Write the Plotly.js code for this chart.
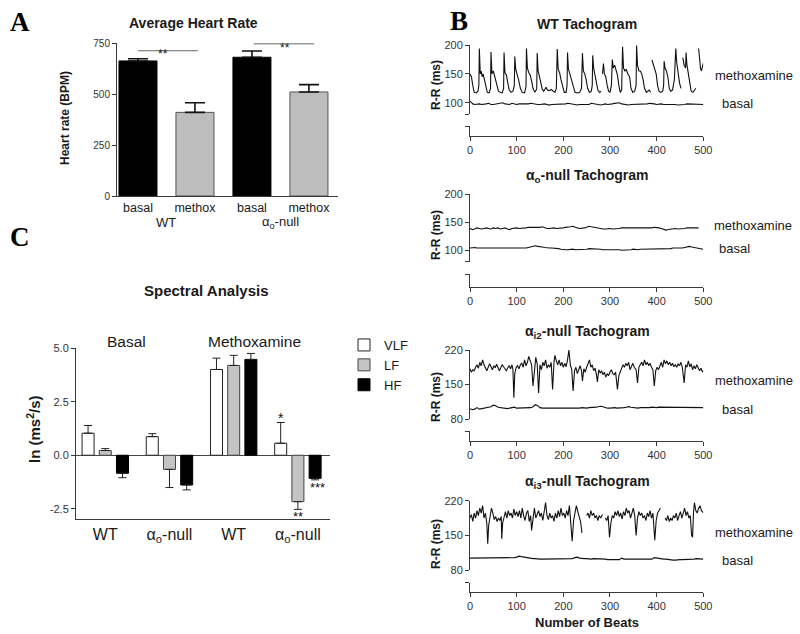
<!DOCTYPE html>
<html><head><meta charset="utf-8">
<script src="https://cdn.plot.ly/plotly-3.0.1.min.js"></script>
<style>html,body{margin:0;padding:0;background:#fff}#chart{width:800px;height:634px}</style>
</head><body><div id="chart"></div>
<script>
// ---------- Panel A: Average Heart Rate ----------
const hrKeys = ['WT basal','WT methox','ao basal','ao methox'];
const hrLabels = ['basal','methox','basal','methox'];
const hrValues = [662, 410, 680, 510];
const hrErrors = [11, 47, 31, 36];
const hrGroups = ['WT', 'α<sub>o</sub>-null'];

// ---------- Panel C: Spectral Analysis ----------
const specKeys = ['WT basal','ao basal','WT metho','ao metho'];
const specLabels = ['WT','α<sub>o</sub>-null','WT','α<sub>o</sub>-null'];
const vlfValues = [1.03, 0.87, 4.01, 0.56];
const vlfErrors = [0.36, 0.14, 0.53, 0.97];
const lfValues = [0.22, -0.66, 4.20, -2.17];
const lfErrors = [0.09, 0.85, 0.47, 0.36];
const hfValues = [-0.84, -1.39, 4.48, -1.08];
const hfErrors = [0.21, 0.23, 0.28, 0.07];

// ---------- Panel B: Tachograms [beat, R-R ms] ----------
const wtMeth = [[0,150],[3,145],[6,130],[9,118],[13,117],[17,120],[19,130],[20,194],[22,150],[24,155],[26,145],[28,150],[31,140],[34,125],[37,118],[41,117],[44,125],[45,188],[47,150],[50,155],[53,145],[57,132],[61,120],[65,118],[69,117],[72,125],[73,187],[75,152],[78,148],[81,135],[84,122],[88,118],[92,120],[95,130],[96,180],[98,158],[101,150],[104,140],[108,125],[112,118],[117,117],[120,128],[121,194],[123,160],[126,152],[129,148],[132,138],[135,125],[139,118],[143,124],[144,186],[146,155],[149,145],[152,135],[155,123],[158,120],[161,124],[163,127],[166,122],[170,121],[174,123],[178,121],[182,118],[185,125],[187,193],[189,158],[192,152],[195,140],[198,128],[202,118],[206,118],[208,130],[209,187],[211,158],[214,150],[217,140],[221,128],[225,118],[230,117],[235,118],[239,125],[241,186],[243,155],[246,150],[249,140],[252,125],[256,118],[260,120],[262,130],[263,182],[265,160],[268,150],[271,135],[274,122],[278,118],[281,120],[282,null],[284,150],[286,168],[288,150],[291,145],[294,130],[297,120],[300,118],[303,130],[305,175],[307,160],[310,165],[313,155],[316,148],[319,130],[322,118],[325,122],[327,197],[329,160],[332,155],[335,158],[338,150],[342,145],[345,125],[349,118],[353,120],[356,130],[357,199],[359,165],[362,155],[365,155],[368,150],[371,140],[374,125],[378,118],[381,120],[384,122],[387,118],[388,null],[390,174],[393,165],[396,160],[399,150],[402,130],[405,120],[409,118],[413,120],[415,130],[416,172],[418,160],[421,155],[424,145],[427,125],[430,120],[434,122],[438,140],[441,194],[443,170],[446,150],[449,135],[452,125],[454,null],[456,178],[459,165],[462,160],[463,187],[465,165],[468,150],[471,130],[474,120],[478,118],[482,122],[484,125],[486,null],[490,194],[492,170],[494,160],[496,155],[498,165],[500,168]];
const wtBasal = [[0,103],[3,100],[6,98],[10,97],[15,98],[20,98],[25,97],[30,97],[35,98],[40,99],[45,97],[50,97],[55,98],[60,98],[65,99],[70,100],[75,98],[80,98],[85,97],[90,99],[95,98],[100,97],[105,98],[110,98],[115,97],[120,97],[125,98],[130,99],[135,98],[140,98],[145,97],[150,97],[155,98],[160,98],[165,97],[170,96],[175,97],[180,97],[185,98],[190,98],[195,97],[200,97],[205,98],[210,99],[215,98],[220,97],[225,96],[230,96],[235,97],[240,97],[245,98],[250,98],[255,97],[260,99],[265,98],[270,97],[275,96],[280,96],[285,97],[290,98],[295,97],[300,97],[305,98],[310,99],[315,99],[320,100],[325,98],[330,97],[335,96],[340,96],[345,97],[350,97],[355,98],[360,98],[365,97],[370,97],[375,98],[380,98],[385,99],[390,99],[395,98],[400,97],[405,98],[410,98],[415,97],[420,97],[425,98],[430,98],[435,97],[440,97],[445,96],[450,96],[455,97],[460,97],[465,98],[470,98],[475,97],[480,97],[485,98],[490,98],[495,97],[500,97]];
const aoMeth = [[0,139],[5,137],[10,138],[15,140],[20,139],[25,138],[30,139],[35,140],[40,139],[45,138],[50,140],[55,139],[60,140],[65,138],[70,139],[75,140],[80,138],[85,137],[90,139],[95,140],[100,140],[105,139],[110,139],[115,140],[120,140],[125,141],[130,141],[135,140],[140,140],[145,141],[150,141],[155,142],[160,140],[165,139],[170,139],[175,140],[180,140],[185,139],[190,139],[195,140],[200,140],[205,141],[210,141],[215,142],[220,143],[225,141],[230,140],[235,139],[240,139],[245,140],[250,141],[255,143],[260,142],[265,141],[270,140],[275,139],[280,139],[285,138],[290,138],[295,139],[300,139],[305,138],[310,138],[315,139],[320,139],[325,140],[330,140],[335,139],[340,139],[345,140],[350,140],[355,139],[360,139],[365,140],[370,140],[375,139],[380,139],[385,140],[390,140],[395,141],[400,141],[405,140],[410,139],[415,138],[420,136],[425,137],[430,138],[435,139],[440,139],[445,138],[450,138],[455,139],[460,139],[465,140],[470,140],[475,139],[480,139],[485,140],[490,140]];
const aoBasal = [[0,104],[5,105],[10,105],[15,104],[20,104],[25,103],[30,103],[35,104],[40,104],[45,103],[50,103],[55,104],[60,104],[65,103],[70,103],[75,104],[80,104],[85,103],[90,103],[95,104],[100,104],[105,103],[110,103],[115,104],[120,104],[125,105],[130,106],[135,108],[140,108],[145,107],[150,107],[155,106],[160,105],[165,104],[170,104],[175,104],[180,104],[185,103],[190,103],[195,102],[200,101],[205,101],[210,101],[215,102],[220,102],[225,101],[230,101],[235,102],[240,102],[245,102],[250,102],[255,103],[260,103],[265,102],[270,102],[275,102],[280,102],[285,101],[290,101],[295,102],[300,102],[305,101],[310,101],[315,101],[320,101],[325,100],[330,100],[335,100],[340,101],[345,101],[350,102],[355,101],[360,101],[365,102],[370,102],[375,102],[380,102],[385,103],[390,103],[395,102],[400,102],[405,103],[410,103],[415,102],[420,102],[425,103],[430,103],[435,104],[440,104],[445,103],[450,103],[455,104],[460,105],[465,106],[470,107],[475,106],[480,105],[485,104],[490,103],[495,102],[500,102]];
const ai2Meth = [[0,182],[3,175],[6,180],[9,178],[12,185],[15,190],[18,183],[21,195],[24,188],[27,200],[30,190],[33,183],[36,178],[39,185],[42,192],[45,186],[48,180],[51,188],[54,184],[57,191],[60,186],[63,178],[66,184],[69,190],[72,186],[75,183],[78,178],[81,184],[84,188],[87,182],[90,190],[92,180],[94,123],[96,172],[99,185],[102,188],[105,182],[108,190],[111,193],[114,185],[117,200],[120,188],[123,195],[126,207],[129,200],[132,190],[135,147],[138,185],[141,205],[144,192],[147,133],[150,190],[153,180],[156,195],[159,188],[162,200],[165,183],[168,190],[171,185],[174,195],[177,140],[180,195],[182,209],[185,198],[188,190],[191,200],[194,188],[197,195],[200,185],[203,193],[206,186],[209,200],[212,220],[215,190],[218,180],[221,137],[224,178],[227,185],[230,172],[233,180],[236,188],[239,178],[241,157],[244,182],[247,175],[250,185],[253,193],[256,200],[259,185],[262,190],[265,178],[268,183],[271,170],[273,155],[276,180],[279,173],[282,178],[285,170],[288,175],[291,165],[294,172],[297,168],[300,175],[303,180],[306,172],[309,170],[312,175],[316,140],[319,168],[322,175],[325,182],[328,190],[331,185],[334,193],[337,188],[340,195],[343,180],[346,187],[349,193],[352,185],[356,180],[359,153],[362,185],[365,190],[368,195],[371,188],[374,200],[377,190],[380,195],[383,188],[386,193],[389,185],[392,180],[395,147],[398,178],[401,185],[404,180],[407,188],[410,195],[413,185],[416,200],[419,192],[422,198],[425,190],[428,195],[431,188],[434,193],[437,186],[440,190],[443,185],[446,192],[449,188],[452,195],[455,185],[459,153],[462,190],[465,185],[468,198],[471,186],[474,192],[477,180],[480,188],[483,182],[486,190],[489,185],[492,178],[495,183],[498,176],[500,178]];
const ai2Basal = [[0,101],[5,99],[10,100],[15,103],[20,100],[25,101],[30,102],[35,103],[40,104],[45,105],[50,108],[55,107],[60,104],[65,103],[70,102],[75,102],[80,101],[85,102],[90,103],[95,104],[100,102],[105,102],[110,103],[115,102],[120,102],[125,103],[130,103],[135,105],[140,109],[145,107],[150,103],[155,102],[160,102],[165,101],[170,101],[175,102],[180,102],[185,102],[190,102],[195,101],[200,101],[205,102],[210,102],[215,102],[220,102],[225,101],[230,101],[235,102],[240,103],[245,102],[250,102],[255,103],[260,103],[265,103],[270,104],[275,105],[280,106],[285,105],[290,103],[295,102],[300,102],[305,103],[310,103],[315,102],[320,102],[325,103],[330,103],[335,104],[340,105],[345,104],[350,103],[355,102],[360,102],[365,103],[370,103],[375,102],[380,102],[385,103],[390,104],[395,103],[400,103],[405,104],[410,104],[415,103],[420,103],[425,104],[430,104],[435,103],[440,103],[445,104],[450,104],[455,103],[460,103],[465,103],[470,103],[475,104],[480,104],[485,103],[490,103],[495,103],[500,103]];
const ai3Meth = [[0,185],[3,192],[6,178],[9,195],[12,185],[15,200],[18,190],[21,205],[24,195],[27,210],[30,185],[33,195],[36,175],[38,133],[40,170],[43,190],[46,205],[49,195],[52,182],[55,188],[58,178],[61,185],[64,180],[67,188],[68,143],[70,175],[73,190],[76,198],[79,185],[82,200],[85,190],[88,195],[91,185],[94,203],[97,190],[100,198],[103,188],[106,200],[109,185],[112,205],[115,190],[118,180],[121,195],[124,200],[127,178],[130,190],[132,160],[135,190],[138,205],[141,185],[144,195],[147,200],[150,188],[153,195],[156,180],[159,200],[162,216],[165,190],[168,182],[171,195],[174,185],[177,190],[180,178],[183,195],[186,185],[189,200],[192,188],[195,205],[198,190],[201,195],[204,185],[207,200],[210,190],[213,210],[216,180],[219,138],[222,180],[225,195],[228,210],[231,198],[234,185],[237,178],[240,155],[244,null],[250,190],[253,195],[256,185],[259,200],[262,190],[265,195],[268,185],[271,190],[274,180],[277,190],[280,185],[284,192],[287,null],[290,185],[293,180],[296,190],[299,146],[302,175],[305,190],[308,185],[311,198],[314,190],[317,200],[320,188],[323,195],[326,183],[329,198],[332,190],[335,205],[338,195],[341,200],[344,185],[347,195],[350,205],[353,190],[356,150],[359,185],[362,198],[365,190],[368,195],[371,185],[374,190],[377,180],[380,195],[383,188],[386,200],[389,185],[392,195],[396,140],[399,180],[402,195],[405,200],[408,205],[412,null],[418,185],[421,180],[424,190],[427,178],[430,185],[433,180],[436,190],[439,185],[442,195],[445,180],[448,190],[451,198],[454,185],[457,195],[460,205],[463,190],[466,198],[469,185],[472,190],[475,150],[477,146],[479,195],[481,216],[484,200],[487,195],[490,205],[493,210],[496,200],[500,196]];
const ai3Basal = [[0,104],[5,104],[10,104],[15,105],[20,105],[25,104],[30,104],[35,105],[40,105],[45,104],[50,104],[55,105],[60,105],[65,104],[70,104],[75,104],[80,104],[85,105],[90,105],[95,105],[100,106],[105,108],[110,107],[115,106],[120,105],[125,104],[130,104],[135,103],[140,103],[145,102],[150,102],[155,102],[160,102],[165,103],[170,103],[175,102],[180,102],[185,102],[190,102],[195,103],[200,103],[205,102],[210,102],[215,103],[220,103],[225,105],[230,106],[235,104],[240,103],[245,103],[250,103],[255,102],[260,102],[265,103],[270,103],[275,102],[280,102],[285,102],[290,102],[295,101],[300,101],[305,102],[310,102],[315,101],[320,101],[325,104],[330,102],[335,102],[340,102],[345,103],[350,103],[355,102],[360,102],[365,102],[370,102],[375,103],[380,103],[385,102],[390,102],[395,105],[400,104],[405,103],[410,103],[415,102],[420,102],[425,101],[430,101],[435,100],[440,100],[445,101],[450,101],[455,101],[460,101],[465,102],[470,102],[475,102],[480,102],[485,103],[490,103],[495,102],[500,102]];
const tachoTitles = ['WT Tachogram','α<sub>o</sub>-null Tachogram','α<sub>i2</sub>-null Tachogram','α<sub>i3</sub>-null Tachogram'];
const beatTicks = [0,100,200,300,400,500];

// ---------- helpers ----------
const W = 800, H = 634;
const fx = p => p / W;
const fy = p => 1 - p / H;
const FONT = 'Liberation Sans, Arial, Helvetica, sans-serif';
const AX = '#3a3a3a';
const TXT = '#1a1a1a';

const data = [];
const annotations = [];
const shapes = [];
const layout = {
  width: W, height: H, margin: {l:0, r:0, t:0, b:0},
  paper_bgcolor: '#fff', plot_bgcolor: 'rgba(0,0,0,0)',
  font: {family: FONT, color: TXT},
  barmode: 'group', bargap: 0.196, bargroupgap: 0.302,
  showlegend: true,
  legend: {x: fx(344), y: fy(330), xanchor: 'left', yanchor: 'top',
           font: {size: 13, color: TXT}, bgcolor: 'rgba(0,0,0,0)', tracegroupgap: 0, itemwidth: 30},
  annotations, shapes
};

function ann(text, x, y, size, opts) {
  annotations.push(Object.assign({text, x: fx(x), y: fy(y), xref: 'paper', yref: 'paper',
    showarrow: false, xanchor: 'center', yanchor: 'middle',
    font: {size, family: FONT, color: TXT}}, opts || {}));
}

// ---------- Panel A ----------
layout.xaxis = {domain: [fx(117), fx(338)], anchor: 'y', type: 'category', range: [-0.368, 3.51],
  tickvals: hrKeys, ticktext: hrLabels, ticks: '', showline: true, linecolor: AX, linewidth: 1,
  tickfont: {size: 12.5, color: TXT}, showgrid: false, zeroline: false, fixedrange: true};
layout.yaxis = {domain: [fy(196), fy(43)], anchor: 'x', range: [0, 750], tickvals: [0,250,500,750],
  ticks: 'outside', ticklen: 4, tickcolor: AX, showline: true, linecolor: AX, linewidth: 1,
  tickfont: {size: 10, color: '#333'}, showgrid: false, zeroline: false};
data.push({type: 'bar', x: hrKeys, y: hrValues, xaxis: 'x', yaxis: 'y', width: 0.667, showlegend: false,
  marker: {color: ['#000','#bdbdbd','#000','#bdbdbd'], line: {color: ['#000','#555','#000','#555'], width: 1}},
  error_y: {type: 'data', symmetric: false, array: hrErrors, arrayminus: hrErrors.map(() => 0),
            visible: true, color: '#111', thickness: 1.6, width: 10},
  hoverinfo: 'skip'});
shapes.push({type: 'line', xref: 'x', yref: 'y', x0: 0, x1: 1.05, y0: 712, y1: 712, line: {color: '#666', width: 1}});
shapes.push({type: 'line', xref: 'x', yref: 'y', x0: 2.03, x1: 3.09, y0: 746, y1: 746, line: {color: '#666', width: 1}});
annotations.push({text: '**', x: 0.44, y: fy(45), xref: 'x', yref: 'paper', showarrow: false, font: {size: 12, color: TXT}});
annotations.push({text: '**', x: 2.58, y: fy(39), xref: 'x', yref: 'paper', showarrow: false, font: {size: 12, color: TXT}});
annotations.push({text: hrGroups[0], x: 0.5, y: fy(222), xref: 'x', yref: 'paper', showarrow: false, font: {size: 13, color: TXT}});
annotations.push({text: hrGroups[1], x: 2.5, y: fy(222), xref: 'x', yref: 'paper', showarrow: false, font: {size: 13, color: TXT}});
ann('<b>Average Heart Rate</b>', 193, 23, 14);
ann('<b>Heart rate (BPM)</b>', 65, 118, 12, {textangle: -90});
ann('<b>A</b>', 20, 22, 27, {font: {size: 27, family: 'Liberation Serif, Times New Roman, serif', color: '#000'}});

// ---------- Panel C ----------
layout.xaxis2 = {domain: [fx(76), fx(330)], anchor: 'y2', type: 'category', range: [-0.456, 3.5],
  tickvals: specKeys, ticktext: specLabels, ticks: '', showline: true, linecolor: AX, linewidth: 1,
  tickfont: {size: 16, color: TXT}, showgrid: false, zeroline: false};
layout.yaxis2 = {domain: [fy(519.3), fy(348.3)], anchor: 'x2', range: [-2.995, 5],
  tickvals: [-2.5, 0, 2.5, 5], ticktext: ['-2.5','0.0','2.5','5.0'],
  ticks: 'outside', ticklen: 4, tickcolor: AX, showline: true, linecolor: AX, linewidth: 1,
  tickfont: {size: 11, color: '#333'}, showgrid: false, zeroline: true, zerolinecolor: '#444', zerolinewidth: 1};
function plusMinus(vals, errs) {
  return {plus: vals.map((v, i) => v >= 0 ? errs[i] : 0), minus: vals.map((v, i) => v < 0 ? errs[i] : 0)};
}
[[ 'VLF', vlfValues, vlfErrors, '#fff', '#222'],
 [ 'LF', lfValues, lfErrors, '#c4c4c4', '#444'],
 [ 'HF', hfValues, hfErrors, '#000', '#000']].forEach(([name, vals, errs, fill, edge]) => {
  const pm = plusMinus(vals, errs);
  data.push({type: 'bar', name, x: specKeys, y: vals, xaxis: 'x2', yaxis: 'y2',
    marker: {color: fill, line: {color: edge, width: 1}},
    error_y: {type: 'data', symmetric: false, array: pm.plus, arrayminus: pm.minus, visible: true,
              color: '#222', thickness: 1, width: 4},
    hoverinfo: 'skip'});
});
annotations.push({text: '*', x: 2.732, y: 1.72, xref: 'x2', yref: 'y2', showarrow: false, font: {size: 14, color: '#111'}});
annotations.push({text: '**', x: 3, y: -2.86, xref: 'x2', yref: 'y2', showarrow: false, font: {size: 13, color: '#111'}});
annotations.push({text: '***', x: 3.3, y: -1.5, xref: 'x2', yref: 'y2', showarrow: false, font: {size: 13, color: '#111'}});
ann('Basal', 126, 341, 15.5);
ann('Methoxamine', 255, 341, 15.5);
ann('<b>Spectral Analysis</b>', 207, 290, 15);
ann('<b>ln (ms<sup>2</sup>/s)</b>', 33, 429, 15, {textangle: -90});
ann('<b>C</b>', 20, 237, 27, {font: {size: 27, family: 'Liberation Serif, Times New Roman, serif', color: '#000'}});

// ---------- Panel B ----------
const tachoSeries = [[wtMeth, wtBasal], [aoMeth, aoBasal], [ai2Meth, ai2Basal], [ai3Meth, ai3Basal]];
const panels = [
  {top: 45, bot: 114.3, sTop: 126, sBot: 136, range: [80,200], tv: [80,100,150,200], tt: ['','100','150','200'],
   title: 24, ytitle: 85, meth: [713, 75], bas: [720, 103]},
  {top: 194.3, bot: 261.5, sTop: 274.3, sBot: 286.7, range: [80,200], tv: [80,100,150,200], tt: ['','100','150','200'],
   title: 176, ytitle: 235, meth: [712, 225], bas: [717, 248]},
  {top: 350, bot: 419, sTop: 431, sBot: 441, range: [80,220], tv: [80,150,220], tt: ['80','150','220'],
   title: 332, ytitle: 397, meth: [713, 380], bas: [720, 409]},
  {top: 500.7, bot: 570, sTop: 582.7, sBot: 591.7, range: [80,220], tv: [80,150,220], tt: ['80','150','220'],
   title: 482, ytitle: 544, meth: [713, 532], bas: [720, 560]}
];
panels.forEach((p, i) => {
  const xn = i + 3, yMain = 3 + 2 * i, yStub = 4 + 2 * i;
  layout['xaxis' + xn] = {domain: [fx(470), fx(703.3)], anchor: 'y' + yStub, range: [0, 500],
    tickvals: beatTicks, ticks: 'outside', ticklen: 4, tickcolor: AX, showline: true, linecolor: AX, linewidth: 1,
    tickfont: {size: 11, color: '#333'}, showgrid: false, zeroline: false};
  layout['yaxis' + yMain] = {domain: [fy(p.bot), fy(p.top)], anchor: 'x' + xn, range: p.range,
    tickvals: p.tv, ticktext: p.tt, ticks: 'outside', ticklen: 4, tickcolor: AX,
    showline: true, linecolor: AX, linewidth: 1, tickfont: {size: 11, color: '#333'}, showgrid: false, zeroline: false};
  layout['yaxis' + yStub] = {domain: [fy(p.sBot), fy(p.sTop)], anchor: 'x' + xn, range: [0, 1],
    tickvals: [1], showticklabels: false, ticks: 'outside', ticklen: 4, tickcolor: AX,
    showline: true, linecolor: AX, linewidth: 1, showgrid: false, zeroline: false};
  data.push({type: 'scatter', mode: 'lines', x: [], y: [], xaxis: 'x' + xn, yaxis: 'y' + yStub, showlegend: false, hoverinfo: 'skip'});
  tachoSeries[i].forEach(series => {
    data.push({type: 'scatter', mode: 'lines', x: series.map(d => d[0]), y: series.map(d => d[1]),
      xaxis: 'x' + xn, yaxis: 'y' + yMain, showlegend: false, connectgaps: false,
      line: {color: '#111', width: 1.1}, hoverinfo: 'skip'});
  });
  ann('<b>' + tachoTitles[i] + '</b>', 587, p.title, 14);
  ann('<b>R-R (ms)</b>', 436, p.ytitle, 12, {textangle: -90});
  ann('methoxamine', p.meth[0], p.meth[1], 13, {xanchor: 'left'});
  ann('basal', p.bas[0], p.bas[1], 13, {xanchor: 'left'});
});
ann('<b>Number of Beats</b>', 587, 622, 13);
ann('<b>B</b>', 459, 21, 27, {font: {size: 27, family: 'Liberation Serif, Times New Roman, serif', color: '#000'}});

Plotly.newPlot('chart', data, layout, {staticPlot: true, displayModeBar: false});
</script>
</body></html>
